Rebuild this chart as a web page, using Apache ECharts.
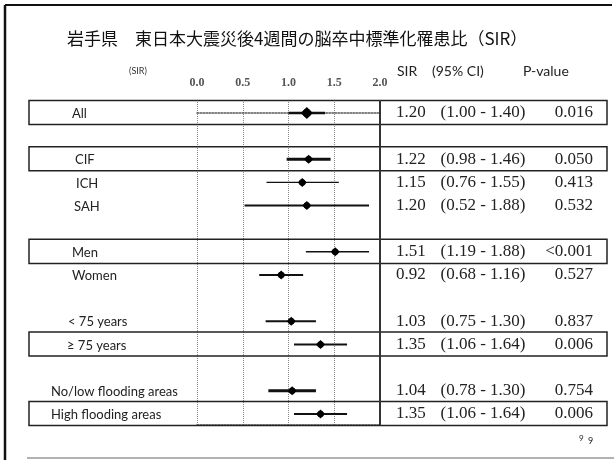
<!DOCTYPE html>
<html>
<head>
<meta charset="utf-8">
<script src="https://cdn.jsdelivr.net/npm/echarts@6/dist/echarts.min.js"></script>
<style>
html,body{margin:0;padding:0;background:#fff;}
#c{width:614px;height:460px;}
</style>
</head>
<body>
<div id="c"></div>
<script>
// ---- data ----
const labels = ['All','CIF','ICH','SAH','Men','Women','< 75 years','\u2265 75 years','No/low flooding areas','High flooding areas'];
const rowIndex = [0,2,3,4,6,7,9,10,12,13];
const sir = [1.20,1.22,1.15,1.20,1.51,0.92,1.03,1.35,1.04,1.35];
const ciLow = [1.00,0.98,0.76,0.52,1.19,0.68,0.75,1.06,0.78,1.06];
const ciHigh = [1.40,1.46,1.55,1.88,1.88,1.16,1.30,1.64,1.30,1.64];
const pValues = ['0.016','0.050','0.413','0.532','<0.001','0.527','0.837','0.006','0.754','0.006'];
const boxed = [true,true,false,false,true,false,false,true,false,true];
const xTicks = [0,0.5,1,1.5,2];

// ---- styling (not data) ----
const labelX = [72,75,76,74,72,72,68,67,51,51];
const lineW = [2.5,3,1.2,2,1.5,2,2,2,3,2];
const markSize = [12,9,9,9,9,9,9,9,9,9];

const chart = echarts.init(document.getElementById('c'), null, {renderer:'canvas'});

const seriesData = labels.map((l,i)=>[sir[i], rowIndex[i], ciLow[i], ciHigh[i], i]);

const option = {
  animation:false,
  backgroundColor:'#fff',
  title:{
    text:'岩手県　東日本大震災後4週間の脳卒中標準化罹患比（SIR）',
    left:62, top:25,
    textStyle:{fontFamily:'Noto Sans CJK JP', fontSize:17, fontWeight:'normal', color:'#111'}
  },
  grid:{left:197, right:234, top:100, bottom:35, containLabel:false},
  xAxis:[{
    type:'value', position:'top', min:0, max:2, interval:0.5,
    axisLine:{show:true, lineStyle:{color:'#555', width:1.5, type:'dotted'}},
    axisTick:{show:false},
    axisLabel:{show:true, margin:11, fontFamily:'Liberation Serif', fontSize:12, fontWeight:'bold', color:'#555',
      formatter:(v)=>xTicks.indexOf(v)>=0 ? v.toFixed(1) : ''},
    splitLine:{show:true, lineStyle:{color:'#888', width:1, type:'dotted'}}
  },{
    type:'value', position:'bottom', min:0, max:2, interval:0.5,
    axisLine:{show:true, lineStyle:{color:'#555', width:1.5, type:'dotted'}},
    axisTick:{show:false}, axisLabel:{show:false}, splitLine:{show:false}
  }],
  yAxis:{type:'value', inverse:true, min:-0.56, max:13.48, show:false, splitLine:{show:false}},
  graphic:[
    {type:'line', shape:{x1:5,y1:5,x2:612,y2:5}, style:{stroke:'#111', lineWidth:2}},
    {type:'line', shape:{x1:5,y1:5,x2:5,y2:460}, style:{stroke:'#111', lineWidth:2.5}},
    {type:'line', shape:{x1:27,y1:458,x2:614,y2:458}, style:{stroke:'#999', lineWidth:1.5}},
    {type:'text', x:129, y:67, style:{text:'(SIR)', fontFamily:'Lato', fontSize:9, fill:'#333'}},
    {type:'text', x:397, y:64, style:{text:'SIR', fontFamily:'Lato', fontSize:14, fill:'#222'}},
    {type:'text', x:432, y:64, style:{text:'(95% CI)', fontFamily:'Lato', fontSize:14, fill:'#222'}},
    {type:'text', x:523, y:64, style:{text:'P-value', fontFamily:'Lato', fontSize:14, fill:'#222'}},
    {type:'text', x:579, y:434, style:{text:'9', fontFamily:'Lato', fontSize:8, fill:'#222'}},
    {type:'text', x:588, y:437, style:{text:'9', fontFamily:'Lato', fontSize:9, fill:'#222'}}
  ],
  series:[{
    type:'custom',
    xAxisIndex:0,
    clip:false,
    data:seriesData,
    encode:{x:0, y:1},
    renderItem:function(params, api){
      const i = api.value(4);
      const y = api.value(1);
      const c = api.coord([api.value(0), y]);
      const lo = api.coord([api.value(2), y]);
      const hi = api.coord([api.value(3), y]);
      const unit = api.size([0,1])[1];
      const s = markSize[i]/2;
      const children = [];
      if (boxed[i]) {
        children.push({type:'rect', shape:{x:29, y:c[1]-unit*0.54, width:578, height:unit*1.04},
          style:{fill:null, stroke:'#222', lineWidth:1.5}});
      }
      children.push({type:'line', shape:{x1:lo[0],y1:c[1],x2:hi[0],y2:c[1]},
        style:{stroke:'#111', lineWidth:lineW[i]}});
      children.push({type:'polygon', shape:{points:[[c[0],c[1]-s],[c[0]+s,c[1]],[c[0],c[1]+s],[c[0]-s,c[1]]]},
        style:{fill:'#000'}});
      children.push({type:'circle', shape:{cx:c[0], cy:c[1], r:s*0.72}, style:{fill:'#000'}});
      children.push({type:'text', x:labelX[i], y:c[1]+1, style:{text:labels[i], fontFamily:'Lato', fontSize:13,
        fill:'#222', verticalAlign:'middle', align:'left'}});
      children.push({type:'text', x:396, y:c[1], style:{text:sir[i].toFixed(2), fontFamily:'Liberation Serif', fontSize:17,
        fill:'#222', verticalAlign:'middle', align:'left'}});
      children.push({type:'text', x:483, y:c[1], style:{text:'(' + ciLow[i].toFixed(2) + ' - ' + ciHigh[i].toFixed(2) + ')',
        fontFamily:'Liberation Serif', fontSize:17, fill:'#222', verticalAlign:'middle', align:'center'}});
      children.push({type:'text', x:593, y:c[1], style:{text:pValues[i], fontFamily:'Liberation Serif', fontSize:17,
        fill:'#222', verticalAlign:'middle', align:'right'}});
      return {type:'group', children:children};
    },
    markLine:{
      silent:true, symbol:'none', label:{show:false},
      lineStyle:{color:'#333', width:2, type:'solid'},
      data:[{xAxis:2}]
    }
  }]
};
chart.setOption(option);
</script>
</body>
</html>
